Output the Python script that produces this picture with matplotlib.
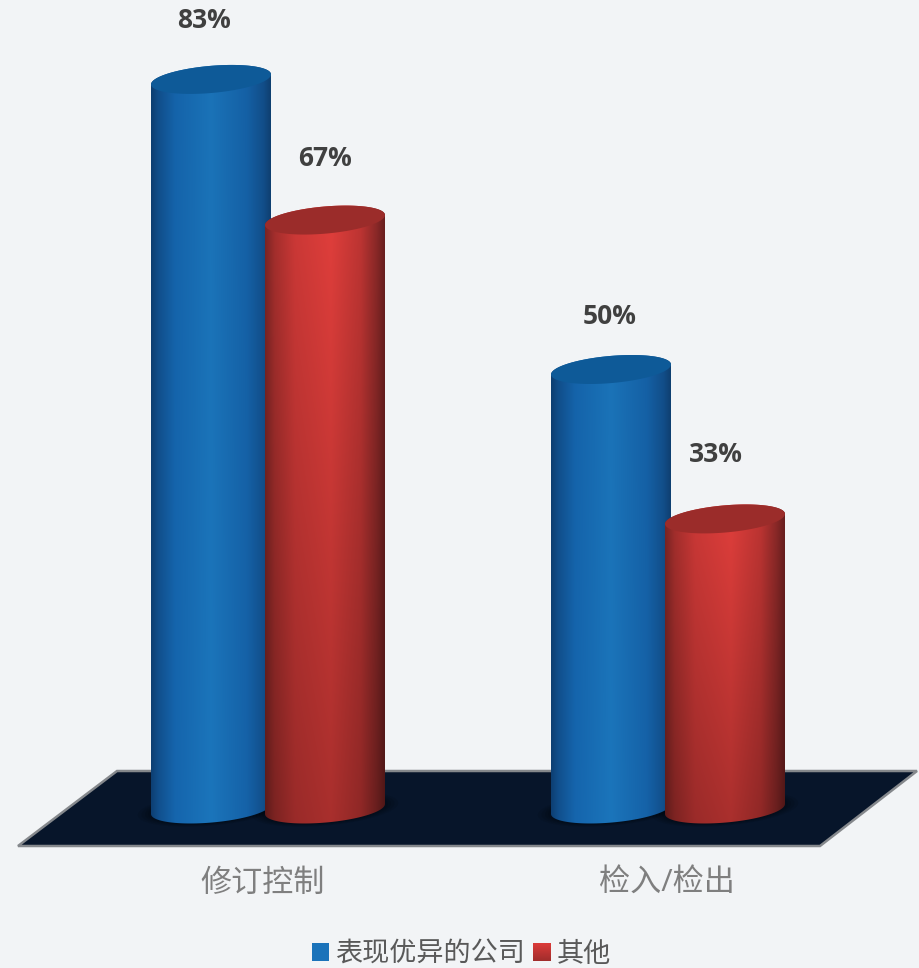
import numpy as np
import matplotlib
matplotlib.use("Agg")
import matplotlib.pyplot as plt
from matplotlib.patches import Polygon, Patch

plt.rcParams['font.family'] = ['Open Sans', 'Noto Sans CJK SC', 'DejaVu Sans']

categories = ["修订控制", "检入/检出"]
series_names = ["表现优异的公司", "其他"]
top_values = [83, 50]
other_values = [67, 33]

W, H = 919, 968
BG = "#f2f4f6"

# axes fill the figure, one category = 400 px and 1% = 8.79 px
PX_X = 400.0
PX_Y = 8.79
X0 = 268.0
Y0 = 809.0

BAR_W = 120 / PX_X
BAR_OFF = 57 / PX_X
TILT = 5.0 / PX_Y
ELL_B = 13.6 / PX_Y


def to_data(px, py):
    return (px - X0) / PX_X, (Y0 - py) / PX_Y


def ellipse(cx, cy, scale=1.0, n=100):
    t = np.linspace(0, 2 * np.pi, n)
    x = cx + scale * BAR_W / 2 * np.cos(t)
    y = cy + scale * (TILT * np.cos(t) + ELL_B * np.sin(t))
    return np.column_stack([x, y])


def body_outline(cx, top):
    # front half of the base ellipse, then back up along the top one
    t = np.linspace(np.pi, 2 * np.pi, 60)
    bx = cx + BAR_W / 2 * np.cos(t)
    by = TILT * np.cos(t) + ELL_B * np.sin(t)
    tt = np.linspace(0, np.pi, 60)
    ux = cx + BAR_W / 2 * np.cos(tt)
    uy = top + TILT * np.cos(tt) + ELL_B * np.sin(tt)
    return np.column_stack([np.r_[bx, ux], np.r_[by, uy]])


def shade_image(stops, colors, v_top, v_bottom):
    # horizontal cylinder shading times a top to bottom fade
    u = np.linspace(0, 1, 240)
    rgb = np.stack([np.interp(u, stops, [matplotlib.colors.to_rgb(c)[i] for c in colors]) for i in range(3)], axis=1)
    fade = np.linspace(v_top, v_bottom, 200)[:, None, None]
    return np.clip(rgb[None, :, :] * fade, 0, 1)


def draw_cylinder(ax, cx, value, stops, colors, cap, v_top, v_bottom, z):
    outline = Polygon(body_outline(cx, value), closed=True, transform=ax.transData)
    low = -2 * ELL_B
    high = value + 2 * ELL_B
    im = ax.imshow(shade_image(stops, colors, v_top, v_bottom), extent=[cx - BAR_W / 2, cx + BAR_W / 2, low, high],
                   origin="upper", aspect="auto", interpolation="bilinear", zorder=z)
    im.set_clip_path(outline)
    ax.add_patch(Polygon(ellipse(cx, value), closed=True, facecolor=cap, edgecolor="none", zorder=z + 0.1))


fig = plt.figure(figsize=(W / 100, H / 100), dpi=100, facecolor=BG)
ax = fig.add_axes([0, 0, 1, 1])
ax.set_axis_off()

# floor
floor_px = [(18, 846), (820, 846), (917, 771), (117, 771)]
floor_pts = [to_data(*p) for p in floor_px]
floor = Polygon(floor_pts, closed=True, facecolor="#07152a", edgecolor="#85888c", linewidth=1.8, zorder=1)
ax.add_patch(floor)

blue_stops = [0, 0.06, 0.2, 0.5, 0.8, 0.94, 1]
blue_colors = ["#0d3f72", "#114f8c", "#1565ad", "#1b75bb", "#1562a8", "#124f8b", "#0f4072"]
red_stops = [0, 0.08, 0.25, 0.55, 0.8, 0.93, 1]
red_colors = ["#7c2524", "#a62f2d", "#ce3937", "#e23f3c", "#bf3533", "#8c2928", "#6a1f1f"]

xs = np.arange(len(categories))
for i in xs:
    bx = i - BAR_OFF
    rx = i + BAR_OFF
    # soft contact shadow on the floor
    for s in [1.22, 1.16, 1.1, 1.05]:
        for cx in [bx, rx]:
            sh = Polygon(ellipse(cx, 0, s), closed=True, facecolor="#000000", edgecolor="none", alpha=0.09, zorder=1.5)
            ax.add_patch(sh)
            sh.set_clip_path(floor)
    draw_cylinder(ax, bx, top_values[i], blue_stops, blue_colors, "#0e5a98", 0.98, 1.0, 3)
    draw_cylinder(ax, rx, other_values[i], red_stops, red_colors, "#9b2c2a", 1.0, 0.74, 4)

# value labels, nudged per bar
top_label_px = [(204, 21), (610, 317)]
other_label_px = [(325, 159), (716, 454)]
for vals, pos in [(top_values, top_label_px), (other_values, other_label_px)]:
    for v, p in zip(vals, pos):
        tx, ty = to_data(*p)
        ax.text(tx, ty, f"{v}%", ha="center", va="center", fontsize=19, fontweight="bold", color="#404040", zorder=6)

# category labels
cat_y = to_data(0, 884)[1]
cat_px = [263, 667]
for cx, name in zip(cat_px, categories):
    ax.text(to_data(cx, 0)[0], cat_y, name, ha="center", va="center", fontsize=22.4, color="#7f7f7f", zorder=6)

ax.set_xlim(to_data(0, 0)[0], to_data(W, 0)[0])
ax.set_ylim(to_data(0, H)[1], to_data(0, 0)[1])

handles = [Patch(facecolor="#1b73ba"), Patch(facecolor="#c23634")]
leg = ax.legend(handles, series_names, ncols=2, frameon=False, loc="center", bbox_to_anchor=(461.5 / W, 1 - 954.5 / H),
                fontsize=19.5, labelcolor="#595959", handlelength=0.63, handleheight=0.6, handletextpad=0.22,
                columnspacing=0.3, borderpad=0, borderaxespad=0)

# the second legend swatch carries the same red fade as the bars
fig.canvas.draw()
box = leg.legend_handles[1].get_window_extent().transformed(ax.transData.inverted())
fade = np.linspace(0, 1, 40)[:, None, None]
swatch = (1 - fade) * np.array(matplotlib.colors.to_rgb("#dc3b39"))[None, None, :] + fade * np.array(matplotlib.colors.to_rgb("#a02d2c"))[None, None, :]
ax.imshow(swatch, extent=[box.x0, box.x1, box.y0, box.y1], origin="upper", aspect="auto", zorder=7)
ax.set_xlim(to_data(0, 0)[0], to_data(W, 0)[0])
ax.set_ylim(to_data(0, H)[1], to_data(0, 0)[1])

fig.savefig("out.png", dpi=100, facecolor=BG)
